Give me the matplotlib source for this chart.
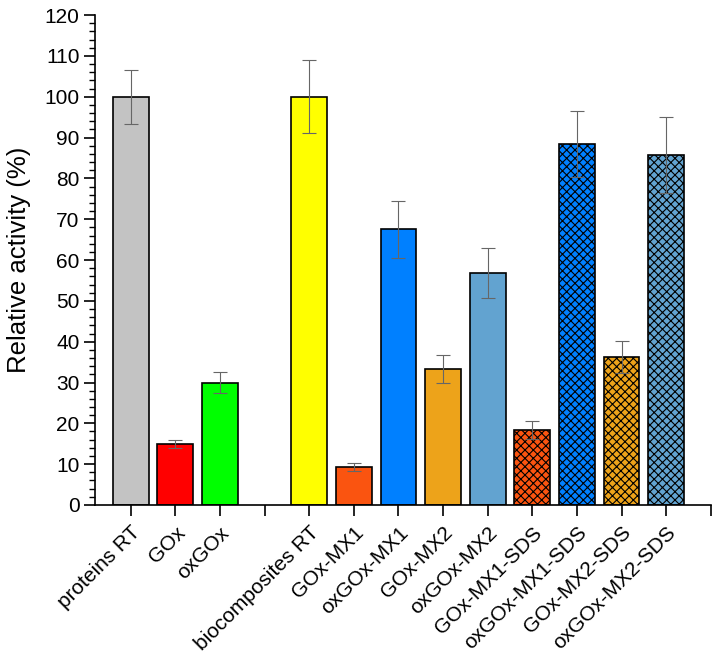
import matplotlib
matplotlib.use("Agg")
import matplotlib.pyplot as plt
from matplotlib.ticker import MultipleLocator

plt.rcParams['font.family'] = ['Liberation Sans', 'DejaVu Sans']
plt.rcParams['hatch.linewidth'] = 0.8

categories = ["proteins RT", "GOx", "oxGOx", "",
              "biocomposites RT", "GOx-MX1", "oxGOx-MX1", "GOx-MX2", "oxGOx-MX2",
              "GOx-MX1-SDS", "oxGOx-MX1-SDS", "GOx-MX2-SDS", "oxGOx-MX2-SDS"]
values = [100, 15, 30, None, 100, 9.3, 67.5, 33.3, 56.8, 18.4, 88.4, 36.3, 85.8]
errors = [6.6, 1.0, 2.5, None, 9.0, 1.0, 7.0, 3.5, 6.2, 2.2, 8.0, 3.9, 9.3]
colors = ["#c3c3c3", "#ff0000", "#00ff00", None, "#ffff00", "#fa5410", "#0080ff",
          "#eda31a", "#62a3d0", "#fa5410", "#0080ff", "#eda31a", "#62a3d0"]
hatched = [False, False, False, False, False, False, False, False, False,
           True, True, True, True]

fig = plt.figure(figsize=(7.18, 6.57), dpi=100)
ax = fig.add_axes([0.1323, 0.2314, 0.8577, 0.7456])

for i, (v, e, c, h) in enumerate(zip(values, errors, colors, hatched)):
    if v is None:
        continue
    ax.bar(i, v, width=0.8, color=c, edgecolor="black", linewidth=1.2,
           hatch="xxxx" if h else None, zorder=2)
    ax.errorbar(i, v, yerr=e, ecolor="#666666", elinewidth=0.8, capsize=5,
                capthick=0.8, fmt="none", zorder=3)

ax.set_xlim(-0.8, 13)
ax.set_ylim(0, 120)
ax.set_xticks(range(14))
ax.set_xticklabels(categories + [""], rotation=45, ha="right",
                   rotation_mode="anchor", fontsize=15)
ax.yaxis.set_major_locator(MultipleLocator(10))
ax.yaxis.set_minor_locator(MultipleLocator(2))
ax.tick_params(axis="y", which="major", direction="out", length=8, width=1.2,
               labelsize=15, pad=3)
ax.tick_params(axis="y", which="minor", direction="out", length=4, width=1.0)
ax.tick_params(axis="x", which="major", direction="out", length=8, width=1.2,
               pad=5)
ax.set_ylabel("Relative activity (%)", fontsize=18.5, labelpad=10)
for s in ["top", "right"]:
    ax.spines[s].set_visible(False)
for s in ["left", "bottom"]:
    ax.spines[s].set_linewidth(1.2)

fig.savefig("out.png", dpi=100)
